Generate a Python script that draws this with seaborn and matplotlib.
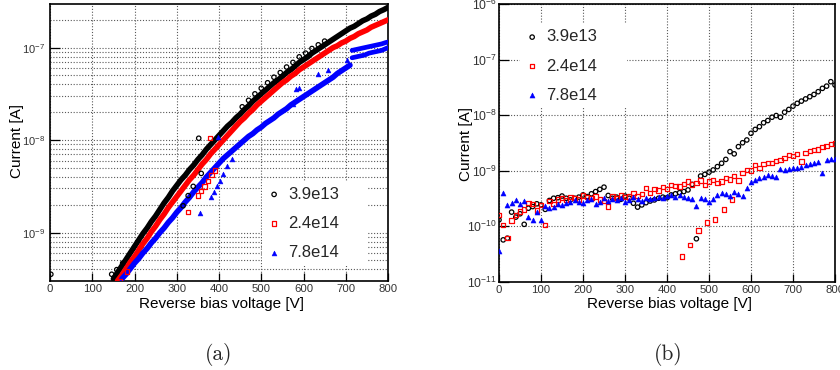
import numpy as np
import matplotlib
matplotlib.use("Agg")
import matplotlib.pyplot as plt
import seaborn as sns
from matplotlib.ticker import LogLocator, LogFormatterSciNotation, MultipleLocator, NullFormatter

sns.set_theme(style="white")
plt.rcParams['font.family'] = ['Liberation Sans', 'DejaVu Sans']
plt.rcParams['mathtext.fontset'] = 'custom'
plt.rcParams['mathtext.rm'] = 'Liberation Sans'
plt.rcParams['mathtext.it'] = 'Liberation Sans:italic'
plt.rcParams['mathtext.bf'] = 'Liberation Sans:bold'

labels = ['3.9e13', '2.4e14', '7.8e14']

# ---------------- panel (a): log10(current [A]) vs reverse bias voltage [V]
volt_a_black = [150, 160, 170, 180, 190, 200, 210, 220, 230, 240, 250, 260, 270, 280, 290, 300,
                310, 320, 330, 340, 350, 360, 370, 380, 390, 400, 410, 420, 430, 440, 450, 460,
                470, 480, 490, 500, 510, 520, 530, 540, 550, 560, 570, 580, 590, 600, 610, 620,
                630, 640, 650, 660, 670, 680, 690, 700, 710, 720, 730, 740, 750, 760, 770, 780,
                790, 800]
logI_a_black = [-9.50, -9.43, -9.36, -9.29, -9.22, -9.15, -9.08, -9.01, -8.95, -8.88, -8.82, -8.75,
                -8.68, -8.62, -8.55, -8.49, -8.43, -8.38, -8.32, -8.27, -8.21, -8.16, -8.10, -8.05,
                -8.00, -7.95, -7.90, -7.85, -7.81, -7.76, -7.72, -7.67, -7.63, -7.58, -7.54, -7.50,
                -7.46, -7.42, -7.38, -7.35, -7.31, -7.27, -7.24, -7.20, -7.16, -7.13, -7.10, -7.06,
                -7.03, -7.00, -6.97, -6.94, -6.91, -6.88, -6.85, -6.82, -6.79, -6.77, -6.74, -6.71,
                -6.69, -6.66, -6.64, -6.61, -6.59, -6.565]

volt_a_red = [160, 170, 180, 190, 200, 210, 220, 230, 240, 250, 260, 270, 280, 290, 300, 310,
              320, 330, 340, 350, 360, 370, 380, 390, 400, 410, 420, 430, 440, 450, 460, 470,
              480, 490, 500, 510, 520, 530, 540, 550, 560, 570, 580, 590, 600, 610, 620, 630,
              640, 650, 660, 670, 680, 690, 700, 710, 720, 730, 740, 750, 760, 770, 780, 790, 800]
logI_a_red = [-9.52, -9.46, -9.39, -9.32, -9.26, -9.19, -9.12, -9.06, -8.99, -8.93, -8.86, -8.80,
              -8.73, -8.67, -8.61, -8.55, -8.49, -8.43, -8.38, -8.32, -8.26, -8.21, -8.15, -8.10,
              -8.05, -8.00, -7.95, -7.90, -7.85, -7.80, -7.76, -7.71, -7.67, -7.62, -7.58, -7.54,
              -7.50, -7.46, -7.42, -7.38, -7.35, -7.31, -7.28, -7.24, -7.21, -7.18, -7.15, -7.12,
              -7.09, -7.06, -7.03, -7.00, -6.98, -6.95, -6.93, -6.90, -6.88, -6.85, -6.83, -6.81,
              -6.78, -6.76, -6.74, -6.72, -6.70]

volt_a_blue = [170, 180, 190, 200, 210, 220, 230, 240, 250, 260, 270, 280, 290, 300, 310, 320,
               330, 340, 350, 360, 370, 380, 390, 400, 410, 420, 430, 440, 450, 460, 470, 480,
               490, 500, 510, 520, 530, 540, 550, 560, 570, 580, 590, 600, 610, 620, 630, 640,
               650, 660, 670, 680, 690, 700, 710]
logI_a_blue = [-9.50, -9.45, -9.39, -9.33, -9.28, -9.22, -9.17, -9.11, -9.06, -9.00, -8.95, -8.89,
               -8.84, -8.78, -8.73, -8.67, -8.62, -8.56, -8.51, -8.46, -8.40, -8.35, -8.30, -8.25,
               -8.20, -8.16, -8.12, -8.08, -8.04, -8.00, -7.96, -7.93, -7.89, -7.86, -7.82, -7.79,
               -7.76, -7.72, -7.69, -7.66, -7.62, -7.59, -7.56, -7.53, -7.50, -7.47, -7.44, -7.41,
               -7.38, -7.35, -7.32, -7.28, -7.25, -7.22, -7.19]
volt_a_blue_hi = [715, 725, 735, 745, 755, 765, 775, 785, 795, 800]
logI_a_blue_hi = [-7.03, -7.02, -7.01, -7.00, -6.99, -6.98, -6.97, -6.96, -6.945, -6.94]
volt_a_blue_lo = [715, 725, 735, 745, 755, 765, 775, 785, 795, 800]
logI_a_blue_lo = [-7.11, -7.10, -7.09, -7.08, -7.06, -7.05, -7.04, -7.03, -7.01, -7.00]

# sparse points (other sweeps / outliers)
volt_a_black_pts = [2, 146, 158, 172, 315, 327, 339, 352, 358, 455, 470, 485, 500, 515, 530, 545,
                    560, 575, 590, 605, 620, 635, 650]
logI_a_black_pts = [-9.45, -9.45, -9.40, -9.33, -8.71, -8.60, -8.50, -7.98, -8.36, -7.64, -7.57,
                    -7.50, -7.44, -7.38, -7.32, -7.27, -7.21, -7.16, -7.10, -7.06, -7.01, -6.97, -6.93]
volt_a_red_pts = [165, 182, 327, 350, 358, 366, 374, 382, 390, 378]
logI_a_red_pts = [-9.52, -9.42, -8.78, -8.60, -8.55, -8.50, -8.44, -8.38, -8.33, -7.98]
volt_a_blue_pts = [355, 380, 388, 395, 402, 410, 420, 430, 398, 574, 582, 590, 635, 659, 702]
logI_a_blue_pts = [-8.79, -8.62, -8.56, -8.50, -8.44, -8.37, -8.28, -8.20, -7.97, -7.61, -7.45,
                   -7.44, -7.29, -7.24, -7.13]

# ---------------- panel (b)
volt_b = [0, 10, 20, 30, 40, 50, 60, 70, 80, 90, 100, 110, 120, 130, 140, 150, 160, 170, 180, 190,
          200, 210, 220, 230, 240, 250, 260, 270, 280, 290, 300, 310, 320, 330, 340, 350, 360, 370,
          380, 390, 400, 410, 420, 430, 440, 450, 460, 470, 480, 490, 500, 510, 520, 530, 540, 550,
          560, 570, 580, 590, 600, 610, 620, 630, 640, 650, 660, 670, 680, 690, 700, 710, 720, 730,
          740, 750, 760, 770, 780, 790, 800]
logI_b_black = [-9.89, -10.25, -10.22, -9.75, -9.84, -9.78, -9.97, -9.68, -9.65, -9.60, -9.62,
                -9.70, -9.54, -9.50, -9.49, -9.46, -9.50, -9.53, -9.50, -9.48, -9.44, -9.47, -9.42,
                -9.38, -9.34, -9.30, -9.45, -9.50, -9.48, -9.52, -9.46, -9.50, -9.59, -9.66, -9.62,
                -9.58, -9.55, -9.53, -9.50, -9.48, -9.49, -9.44, -9.42, -9.40, -9.38, -9.35, -9.25,
                -10.23, -9.10, -9.07, -9.03, -8.99, -8.93, -8.87, -8.80, -8.66, -8.70, -8.57, -8.50,
                -8.45, -8.33, -8.26, -8.21, -8.14, -8.10, -8.04, -8.01, -8.04, -7.95, -7.90, -7.84,
                -7.79, -7.75, -7.71, -7.67, -7.63, -7.58, -7.52, -7.48, -7.40, -7.46]
logI_b_red = [-9.80, -9.98, -10.22, -9.90, -9.80, -9.74, -9.70, -9.59, -9.60, -9.72, -9.62, -9.98,
              -9.55, -9.60, -9.52, -9.50, -9.53, -9.48, -9.50, -9.52, -9.45, -9.48, -9.50, -9.47,
              -9.52, -9.55, -9.65, -9.46, -9.50, -9.44, -9.48, -9.47, -9.40, -9.46, -9.42, -9.32,
              -9.40, -9.33, -9.36, -9.30, -9.33, -9.26, -9.28, -9.29, -9.24, -9.20, -9.25, -9.22,
              -9.18, -9.26, -9.20, -9.17, -9.22, -9.20, -9.14, -9.16, -9.10, -9.18, -9.04, -8.99,
              -9.00, -8.90, -8.95, -8.88, -8.86, -8.87, -8.83, -8.81, -8.78, -8.72, -8.74, -8.70,
              -8.84, -8.68, -8.65, -8.63, -8.62, -8.58, -8.56, -8.52, -8.51]
logI_b_blue = [-10.45, -9.41, -9.62, -9.58, -9.54, -9.60, -9.55, -9.83, -9.90, -9.74, -9.89, -9.64,
               -9.68, -9.66, -9.60, -9.62, -9.58, -9.56, -9.54, -9.57, -9.58, -9.54, -9.52, -9.60,
               -9.56, -9.50, -9.55, -9.52, -9.54, -9.50, -9.56, -9.53, -9.48, -9.51, -9.55, -9.49,
               -9.52, -9.50, -9.47, -9.50, -9.46, -9.44, -9.48, -9.45, -9.47, -9.50, -9.52, -9.64,
               -9.50, -9.52, -9.56, -9.52, -9.44, -9.40, -9.42, -9.46, -9.38, -9.42, -9.46, -9.32,
               -9.20, -9.17, -9.14, -9.12, -9.08, -9.10, -9.12, -8.98, -8.99, -8.97, -8.96, -8.95,
               -8.93, -8.90, -8.89, -8.87, -8.85, -9.05, -8.81, -8.80, -8.80]
volt_b_red_dip = [435, 455, 475, 495, 515, 535, 555]
logI_b_red_dip = [-10.55, -10.34, -10.08, -9.94, -9.88, -9.70, -9.52]


def amps(logs):
    return np.power(10.0, np.asarray(logs, dtype=float))


fig = plt.figure(figsize=(8.4, 3.7), dpi=100)
axA = fig.add_axes([50 / 840, 1 - 281 / 370, 338 / 840, 277 / 370])
axB = fig.add_axes([499 / 840, 1 - 281.5 / 370, 336 / 840, 277.5 / 370])

grid_kw = dict(color='0.35', linestyle=(0, (1, 1.6)), linewidth=0.8)
BLUE = '#0000ff'
RED = '#ff0000'

# ---- panel (a)
band_lw = 4.0
sns.lineplot(x=volt_a_black, y=amps(logI_a_black), ax=axA, color='black', lw=band_lw,
             estimator=None, sort=False, zorder=3)
sns.lineplot(x=volt_a_red, y=amps(logI_a_red), ax=axA, color=RED, lw=band_lw,
             estimator=None, sort=False, zorder=4)
sns.lineplot(x=volt_a_blue, y=amps(logI_a_blue), ax=axA, color=BLUE, lw=band_lw,
             estimator=None, sort=False, zorder=5)
sns.lineplot(x=volt_a_blue_hi, y=amps(logI_a_blue_hi), ax=axA, color=BLUE, lw=band_lw - 0.6,
             estimator=None, sort=False, zorder=5)
sns.lineplot(x=volt_a_blue_lo, y=amps(logI_a_blue_lo), ax=axA, color=BLUE, lw=band_lw - 0.6,
             estimator=None, sort=False, zorder=5)

sns.scatterplot(x=volt_a_black_pts, y=amps(logI_a_black_pts), ax=axA, marker='o', s=10,
                facecolor='none', edgecolor='black', linewidth=0.9, label=labels[0], zorder=6)
sns.scatterplot(x=volt_a_red_pts, y=amps(logI_a_red_pts), ax=axA, marker='s', s=10,
                facecolor='none', edgecolor=RED, linewidth=0.9, label=labels[1], zorder=6)
sns.scatterplot(x=volt_a_blue_pts, y=amps(logI_a_blue_pts), ax=axA, marker='^', s=12,
                color=BLUE, edgecolor=BLUE, linewidth=0.4, label=labels[2], zorder=6)

axA.set_xlim(0, 800)
axA.set_yscale('log')
axA.set_ylim(3.0e-10, 2.96e-7)
axA.grid(False)
axA.grid(True, which='major', axis='x', **grid_kw)
axA.grid(True, which='both', axis='y', **grid_kw)

# ---- panel (b)
sns.scatterplot(x=volt_b, y=amps(logI_b_black), ax=axB, marker='o', s=10,
                facecolor='none', edgecolor='black', linewidth=0.9, label=labels[0], zorder=4)
sns.scatterplot(x=volt_b, y=amps(logI_b_red), ax=axB, marker='s', s=10,
                facecolor='none', edgecolor=RED, linewidth=0.9, label=labels[1], zorder=5)
sns.scatterplot(x=volt_b_red_dip, y=amps(logI_b_red_dip), ax=axB, marker='s', s=10,
                facecolor='none', edgecolor=RED, linewidth=0.9, zorder=5)
sns.scatterplot(x=volt_b, y=amps(logI_b_blue), ax=axB, marker='^', s=13,
                color=BLUE, edgecolor=BLUE, linewidth=0.4, label=labels[2], zorder=6)

axB.set_xlim(0, 800)
axB.set_yscale('log')
axB.set_ylim(1e-11, 1e-6)
axB.grid(False)
axB.grid(True, which='major', axis='both', **grid_kw)

for ax, ypad, ysize in ((axA, 3.5, 8.0), (axB, 1.5, 8.8)):
    ax.set_axisbelow(True)
    ax.xaxis.set_major_locator(MultipleLocator(100))
    ax.xaxis.set_minor_locator(MultipleLocator(20))
    ax.yaxis.set_major_locator(LogLocator(base=10, numticks=20))
    ax.yaxis.set_minor_locator(LogLocator(base=10, subs=np.arange(2, 10), numticks=20))
    ax.yaxis.set_major_formatter(LogFormatterSciNotation())
    ax.yaxis.set_minor_formatter(NullFormatter())
    ax.tick_params(axis='x', which='major', direction='in', length=5.5, width=0.9,
                   labelsize=8.2, pad=2.5, colors='black', labelcolor='0.2')
    ax.tick_params(axis='x', which='minor', direction='in', length=2.8, width=0.8, colors='black')
    ax.tick_params(axis='y', which='major', direction='in', length=7.5, width=0.9,
                   labelsize=ysize, pad=ypad, colors='black', labelcolor='0.2')
    ax.tick_params(axis='y', which='minor', direction='in', length=3.8, width=0.8, colors='black')
    ax.tick_params(bottom=True, left=True, top=False, right=False)
    for sp in ax.spines.values():
        sp.set_color('black')
        sp.set_linewidth(1.2)
    ax.set_xlabel('Reverse bias voltage [V]', fontsize=11, color='black')
    ax.set_ylabel('Current [A]', fontsize=11, color='black')
    ax.xaxis.set_label_coords(0.507, -0.057)

axA.yaxis.set_label_coords(-0.076, 0.505)
axB.yaxis.set_label_coords(-0.078, 0.495)

leg_kw = dict(loc='upper left', mode='expand', borderaxespad=0, frameon=True,
              facecolor='white', edgecolor='none', framealpha=1.0, fancybox=False,
              fontsize=12, handlelength=0.8, handletextpad=0.45, labelspacing=0.85,
              borderpad=0.33)
legA = axA.legend(bbox_to_anchor=(0.627, 0.0, 0.311, 0.36), **leg_kw)
legA.set_zorder(10)
legB = axB.legend(bbox_to_anchor=(0.0625, 0.5, 0.318, 0.428), **leg_kw)
legB.set_zorder(10)

fig.text(219 / 840, 1 - 355 / 370, '(a)', ha='center', va='center', fontsize=15.5,
         family=['cmr10', 'DejaVu Serif'])
fig.text(668 / 840, 1 - 355 / 370, '(b)', ha='center', va='center', fontsize=15.5,
         family=['cmr10', 'DejaVu Serif'])

fig.savefig('out.png', dpi=100)
